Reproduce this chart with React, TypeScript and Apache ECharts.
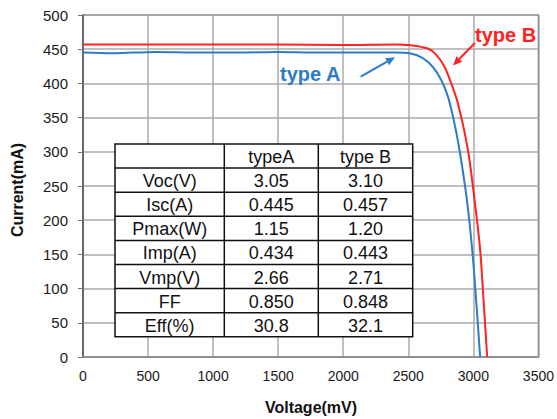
import React, { useEffect, useRef } from "react";
import * as echarts from "echarts";

// I–V curves (voltage in mV, current in mA)
const typeAVoltage = [0, 230, 550, 900, 1200, 1500, 1800, 2100, 2400, 2510, 2612, 2689, 2753, 2804, 2846, 2893, 2950, 2991, 3021, 3052];
const typeACurrent = [445, 444, 446, 445, 445, 446, 445, 445, 445, 444, 437, 424, 405, 381, 349, 303, 230, 157, 84, 0];
const typeBVoltage = [0, 500, 1000, 1500, 2000, 2400, 2510, 2650, 2714, 2779, 2830, 2881, 2958, 3009, 3052, 3078, 3106];
const typeBCurrent = [457, 457, 457, 457, 456, 457, 456, 451, 442, 424, 400, 371, 303, 230, 157, 84, 0];

// Summary table
const tableHeaders = ["", "typeA", "type B"];
const paramNames = ["Voc(V)", "Isc(A)", "Pmax(W)", "Imp(A)", "Vmp(V)", "FF", "Eff(%)"];
const typeAParams = ["3.05", "0.445", "1.15", "0.434", "2.66", "0.850", "30.8"];
const typeBParams = ["3.10", "0.457", "1.20", "0.443", "2.71", "0.848", "32.1"];

const FONT = "Arial, 'Liberation Sans', sans-serif";
const BLUE = "#2D7CC7";
const RED = "#FF2222";

function zip(xs: number[], ys: number[]) {
  return xs.map((x, i) => [x, ys[i]]);
}

function arrow(x1: number, y1: number, x2: number, y2: number, color: string) {
  const ang = Math.atan2(y2 - y1, x2 - x1);
  const len = 9;
  const w = 4;
  const bx = x2 - len * Math.cos(ang);
  const by = y2 - len * Math.sin(ang);
  const px = -Math.sin(ang) * w;
  const py = Math.cos(ang) * w;
  return [
    {
      type: "line",
      shape: { x1, y1, x2: bx, y2: by },
      style: { stroke: color, lineWidth: 2 },
      z: 100,
    },
    {
      type: "polygon",
      shape: { points: [[x2, y2], [bx + px, by + py], [bx - px, by - py]] },
      style: { fill: color },
      z: 100,
    },
  ];
}

function buildTable() {
  const colX = [115, 224.3, 318.3, 412.7];
  const top = 144;
  const rowH = 24.1;
  const nRows = paramNames.length + 1;
  const bottom = top + rowH * nRows;
  const els: any[] = [];
  els.push({
    type: "rect",
    shape: { x: colX[0], y: top, width: colX[3] - colX[0], height: bottom - top },
    style: { fill: "#fff", stroke: "#111", lineWidth: 1.5 },
    z: 50,
  });
  for (let r = 1; r < nRows; r++) {
    const y = top + rowH * r;
    els.push({
      type: "line",
      shape: { x1: colX[0], y1: y, x2: colX[3], y2: y },
      style: { stroke: "#111", lineWidth: 1.5 },
      z: 51,
    });
  }
  for (let c = 1; c < 3; c++) {
    els.push({
      type: "line",
      shape: { x1: colX[c], y1: top, x2: colX[c], y2: bottom },
      style: { stroke: "#111", lineWidth: 1.5 },
      z: 51,
    });
  }
  const rows: string[][] = [tableHeaders];
  paramNames.forEach((p, i) => rows.push([p, typeAParams[i], typeBParams[i]]));
  rows.forEach((row, r) => {
    row.forEach((txt, c) => {
      if (!txt) return;
      els.push({
        type: "text",
        x: (colX[c] + colX[c + 1]) / 2,
        y: top + rowH * r + rowH / 2 + 1,
        style: {
          text: txt,
          fill: "#111",
          font: `18px ${FONT}`,
          align: "center",
          verticalAlign: "middle",
        },
        z: 52,
      });
    });
  });
  return els;
}

export default function App() {
  const ref = useRef<HTMLDivElement>(null);

  useEffect(() => {
    document.body.style.margin = "0";
    if (!ref.current) return;
    const chart = echarts.init(ref.current, undefined, { renderer: "svg" });
    chart.setOption({
      animation: false,
      backgroundColor: "#fff",
      grid: {
        left: 83,
        right: 18,
        top: 15,
        bottom: 62,
        show: true,
        borderColor: "#3a3a3a",
        borderWidth: 1.2,
      },
      xAxis: {
        type: "value",
        min: 0,
        max: 3500,
        interval: 500,
        axisLine: { show: true, lineStyle: { color: "#8a8a8a", width: 1.5 } },
        axisTick: { show: false },
        axisLabel: {
          color: "#1a1a1a",
          fontSize: 14,
          fontFamily: FONT,
          margin: 12,
          formatter: (v: number) => String(v),
        },
        splitLine: { show: true, lineStyle: { color: "#ababab", width: 1.5 } },
      },
      yAxis: {
        type: "value",
        min: 0,
        max: 500,
        interval: 50,
        axisLine: { show: true, lineStyle: { color: "#555", width: 1.5 } },
        axisTick: { show: true, inside: false, length: 5, lineStyle: { color: "#777" } },
        axisLabel: {
          color: "#1a1a1a",
          fontSize: 15,
          fontFamily: FONT,
          margin: 15,
          formatter: (v: number) => String(v),
        },
        splitLine: { show: true, lineStyle: { color: "#ababab", width: 1.5 } },
      },
      series: [
        {
          name: "type A",
          type: "line",
          data: zip(typeAVoltage, typeACurrent),
          smooth: 0.3,
          showSymbol: false,
          lineStyle: { color: BLUE, width: 2 },
          z: 10,
        },
        {
          name: "type B",
          type: "line",
          data: zip(typeBVoltage, typeBCurrent),
          smooth: 0.3,
          showSymbol: false,
          lineStyle: { color: RED, width: 2 },
          z: 11,
        },
      ],
      graphic: [
        {
          type: "text",
          x: 17.5,
          y: 190,
          rotation: Math.PI / 2,
          style: {
            text: "Current(mA)",
            fill: "#111",
            font: `bold 16px ${FONT}`,
            align: "center",
            verticalAlign: "middle",
          },
        },
        {
          type: "text",
          x: 311,
          y: 407,
          style: {
            text: "Voltage(mV)",
            fill: "#111",
            font: `bold 16px ${FONT}`,
            align: "center",
            verticalAlign: "middle",
          },
        },
        {
          type: "text",
          x: 280,
          y: 73.5,
          style: {
            text: "type A",
            fill: BLUE,
            font: `bold 20px ${FONT}`,
            align: "left",
            verticalAlign: "middle",
          },
          z: 100,
        },
        {
          type: "text",
          x: 475,
          y: 35,
          style: {
            text: "type B",
            fill: RED,
            font: `bold 20px ${FONT}`,
            align: "left",
            verticalAlign: "middle",
          },
          z: 100,
        },
        ...arrow(360.7, 76.7, 395, 57.3, BLUE),
        ...arrow(475, 43, 453, 65.5, RED),
        ...buildTable(),
      ],
    });
    return () => chart.dispose();
  }, []);

  return <div ref={ref} style={{ width: 557, height: 419 }} />;
}
